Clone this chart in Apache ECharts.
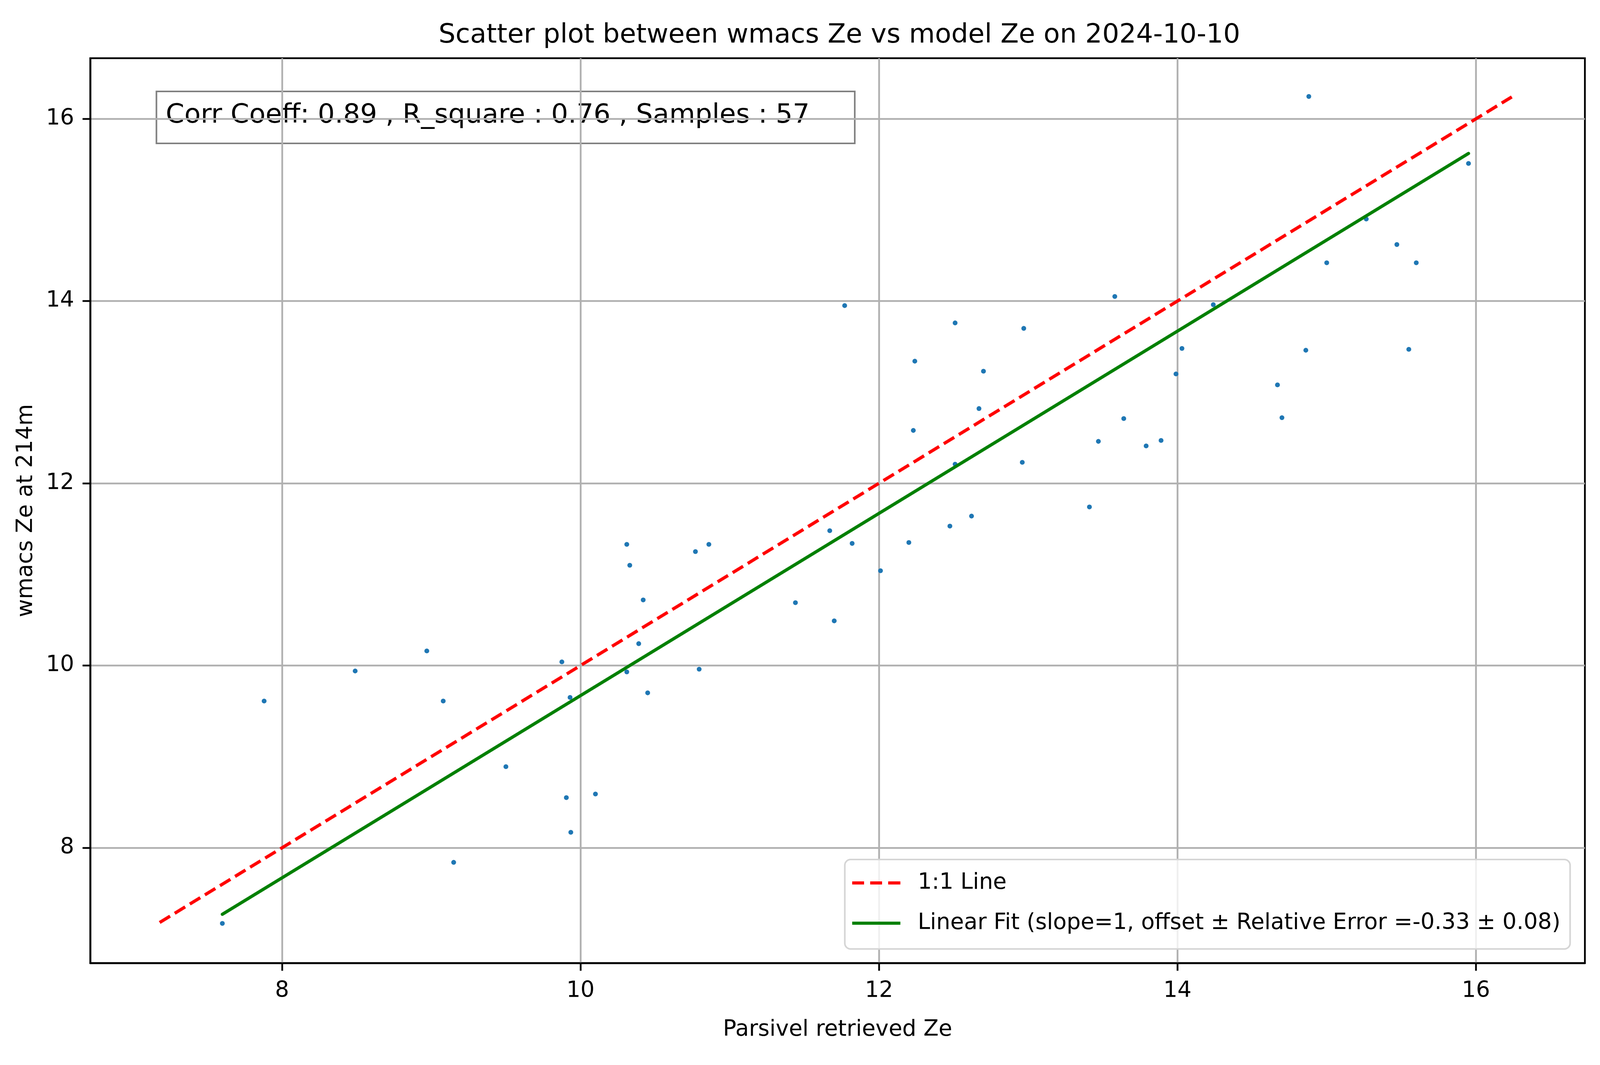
<!DOCTYPE html>
<html>
<head>
<meta charset="utf-8">
<title>wmacs Ze vs model Ze</title>
<script src="https://cdn.jsdelivr.net/npm/echarts@6/dist/echarts.min.js"></script>
<style>
  html, body { margin: 0; padding: 0; background: #fff; overflow: hidden; }
  #chart { width: 100vw; height: 100vh; }
</style>
</head>
<body>
<div id="chart"></div>
<script>
// Parsivel retrieved Ze (x) and wmacs Ze at 214m (y)
var parsivelZe = [7.60, 7.88, 8.49, 8.97, 9.08, 9.15, 9.50, 9.875, 9.905, 9.93, 9.935,
  10.10, 10.31, 10.31, 10.33, 10.39, 10.42, 10.45, 10.77, 10.795, 10.86,
  11.44, 11.67, 11.70, 11.77, 11.82, 12.01, 12.20, 12.23, 12.24, 12.475,
  12.51, 12.51, 12.62, 12.67, 12.70, 12.97, 12.96, 13.41, 13.47, 13.58,
  13.64, 13.79, 13.89, 13.99, 14.03, 14.24, 14.67, 14.70, 14.86, 14.88,
  15.0, 15.265, 15.47, 15.55, 15.60, 15.95];
var wmacsZe = [7.17, 9.61, 9.94, 10.16, 9.61, 7.84, 8.89, 10.04, 8.55, 9.65, 8.17,
  8.59, 9.93, 11.33, 11.10, 10.24, 10.72, 9.70, 11.25, 9.96, 11.33,
  10.69, 11.48, 10.49, 13.95, 11.34, 11.04, 11.35, 12.58, 13.34, 11.53,
  13.76, 12.21, 11.64, 12.82, 13.23, 13.70, 12.23, 11.74, 12.46, 14.05,
  12.71, 12.41, 12.47, 13.20, 13.48, 13.96, 13.08, 12.72, 13.46, 16.245,
  14.42, 14.90, 14.62, 13.47, 14.42, 15.51];

// reference lines (end points)
var oneToOneX = [7.18, 16.24];
var oneToOneY = [7.18, 16.24];
var fitX = [7.60, 15.95];
var fitY = [7.27, 15.62];

var xTicks = [8, 10, 12, 14, 16];
var yTicks = [8, 10, 12, 14, 16];

var titleText = 'Scatter plot between wmacs Ze vs model Ze on 2024-10-10';
var statsText = 'Corr Coeff: 0.89 , R_square : 0.76 , Samples : 57';
var oneToOneName = '1:1 Line';
var fitName = 'Linear Fit (slope=1, offset \u00b1 Relative Error =-0.33 \u00b1 0.08)';

var FONT = 'DejaVu Sans';

function pairs(xs, ys) {
  return xs.map(function (x, i) { return [x, ys[i]]; });
}

var dom = document.getElementById('chart');
var myChart = echarts.init(dom);

// layout was measured on a 4981 x 2726 picture; scale to the real size
var W = dom.clientWidth, H = dom.clientHeight;
var sx = W / 4981, sy = H / 2726, s = Math.min(sx, sy);
function px(v) { return v * sx; }
function py(v) { return v * sy; }
function ps(v) { return v * s; }

// legend icons: dashed red and solid green strokes
var dashIcon = 'path://M0,0h37v10h-37z M56,0h37v10h-37z M112,0h38v10h-38z';
var solidIcon = 'path://M0,0h150v10h-150z';

var tickFont = ps(69);

var axisCommon = {
  type: 'value',
  nameLocation: 'middle',
  nameTextStyle: { fontFamily: FONT, fontSize: tickFont, color: '#000' },
  axisLine: { show: true, lineStyle: { color: '#000', width: ps(5.5) } },
  axisTick: { show: true, inside: false, length: ps(24), lineStyle: { color: '#000', width: ps(5.5) } },
  splitLine: { show: true, lineStyle: { color: '#b0b0b0', width: ps(5.5) } },
  axisLabel: { fontFamily: FONT, fontSize: tickFont, color: '#000' }
};

var option = {
  animation: false,
  backgroundColor: '#fff',
  title: {
    text: titleText,
    left: px(2607),
    textAlign: 'center',
    top: py(90) - ps(83) * 0.55,
    textStyle: { fontFamily: FONT, fontSize: ps(83), fontWeight: 'normal', color: '#000' }
  },
  grid: {
    left: px(281),
    right: px(47),
    top: py(149),
    bottom: py(261),
    containLabel: false,
    outerBoundsMode: 'none',
    show: true,
    borderColor: '#000',
    borderWidth: ps(5.5),
    backgroundColor: 'transparent'
  },
  xAxis: Object.assign({}, axisCommon, {
    min: 6.715,
    max: 16.73,
    name: 'Parsivel retrieved Ze',
    nameGap: py(171) - tickFont * 0.5,
    axisTick: Object.assign({}, axisCommon.axisTick, { customValues: xTicks }),
    axisLabel: Object.assign({}, axisCommon.axisLabel, { customValues: xTicks, margin: py(72) - tickFont * 0.5 })
  }),
  yAxis: Object.assign({}, axisCommon, {
    min: 6.735,
    max: 16.665,
    name: 'wmacs Ze at 214m',
    nameGap: ps(165),
    axisTick: Object.assign({}, axisCommon.axisTick, { customValues: yTicks }),
    axisLabel: Object.assign({}, axisCommon.axisLabel, { customValues: yTicks, margin: ps(50) })
  }),
  legend: {
    data: [{ name: oneToOneName, icon: dashIcon }, { name: fitName, icon: solidIcon }],
    orient: 'vertical',
    left: px(2630),
    top: py(2200),
    itemWidth: ps(150),
    itemHeight: ps(10),
    itemGap: py(23),
    padding: [py(20), px(30), py(26), px(23)],
    backgroundColor: 'rgba(255,255,255,0.8)',
    borderColor: '#d5d5d5',
    borderWidth: ps(5),
    borderRadius: ps(18),
    selectedMode: false,
    textStyle: { fontFamily: FONT, fontSize: tickFont, color: '#000', lineHeight: py(80), padding: [0, 0, 0, px(48)] }
  },
  graphic: [{
    type: 'group',
    z: 100,
    children: [{
      type: 'rect',
      shape: { x: px(487), y: py(234), width: px(2174), height: py(133) },
      style: { fill: 'rgba(255,255,255,0.5)', stroke: '#808080', lineWidth: ps(5) }
    }, {
      type: 'text',
      x: px(516),
      y: py(296),
      style: {
        text: statsText,
        fontFamily: FONT,
        fontSize: ps(83),
        fill: '#000',
        verticalAlign: 'middle',
        align: 'left'
      }
    }]
  }],
  series: [{
    type: 'scatter',
    name: 'data',
    data: pairs(parsivelZe, wmacsZe),
    symbolSize: ps(15),
    itemStyle: { color: '#1f77b4', opacity: 1 },
    z: 2
  }, {
    type: 'line',
    name: oneToOneName,
    data: pairs(oneToOneX, oneToOneY),
    symbol: 'none',
    lineStyle: { color: '#ff0000', width: ps(10), type: [ps(38), ps(17)] },
    itemStyle: { color: '#ff0000' },
    z: 3
  }, {
    type: 'line',
    name: fitName,
    data: pairs(fitX, fitY),
    symbol: 'none',
    lineStyle: { color: '#008000', width: ps(10), cap: 'round' },
    itemStyle: { color: '#008000' },
    z: 4
  }]
};

myChart.setOption(option);

window.onresize = function () {
  myChart.resize();
};
</script>
</body>
</html>
